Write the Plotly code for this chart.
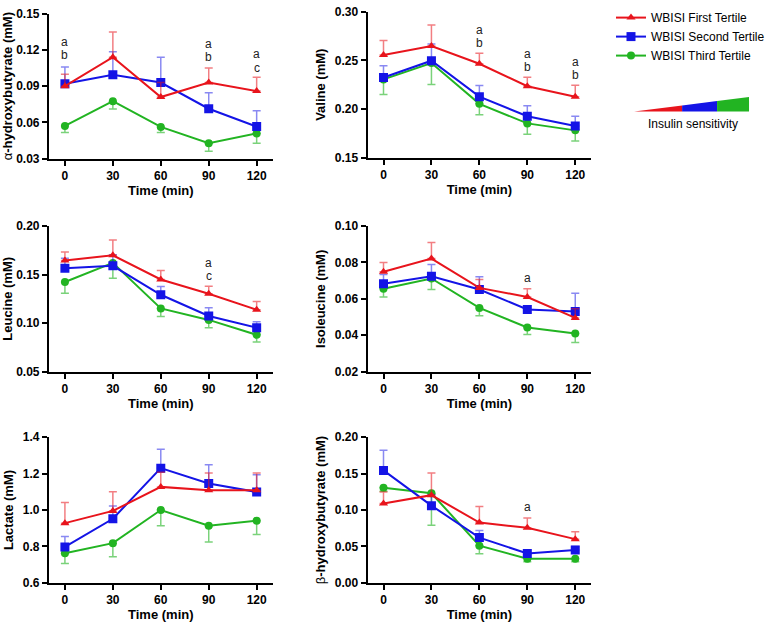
import plotly.graph_objects as go

# ---------------- data ----------------
time_min = [0, 30, 60, 90, 120]
series_names = ["WBISI First Tertile", "WBISI Second Tertile", "WBISI Third Tertile"]

# alpha-hydroxybutyrate (mM)
ahb_first = [0.090, 0.114, 0.081, 0.093, 0.086]
ahb_first_sem = [0.010, 0.021, 0.012, 0.012, 0.0115]
ahb_second = [0.092, 0.0995, 0.093, 0.0713, 0.0565]
ahb_second_sem = [0.014, 0.019, 0.021, 0.0133, 0.0132]
ahb_third = [0.057, 0.0776, 0.0562, 0.0427, 0.0508]
ahb_third_sem = [0.0054, 0.0066, 0.0046, 0.0067, 0.0081]

# Valine (mM)
val_first = [0.2557, 0.2648, 0.2466, 0.2235, 0.2127]
val_first_sem = [0.0148, 0.0218, 0.0108, 0.0093, 0.0118]
val_second = [0.2325, 0.2497, 0.2127, 0.1925, 0.1825]
val_second_sem = [0.0121, 0.0173, 0.0115, 0.0108, 0.010]
val_third = [0.2305, 0.2473, 0.2053, 0.1852, 0.178]
val_third_sem = [0.0155, 0.0221, 0.0113, 0.0112, 0.011]

# Leucine (mM)
leu_first = [0.1644, 0.1698, 0.1449, 0.1302, 0.1138]
leu_first_sem = [0.0087, 0.0158, 0.0094, 0.0078, 0.0084]
leu_second = [0.1564, 0.159, 0.1292, 0.1073, 0.0953]
leu_second_sem = [0.0104, 0.0115, 0.0084, 0.0084, 0.0062]
leu_third = [0.1423, 0.162, 0.1151, 0.1033, 0.0879]
leu_third_sem = [0.0115, 0.0157, 0.0084, 0.008, 0.0074]

# Isoleucine (mM)
ile_first = [0.0749, 0.0821, 0.066, 0.061, 0.0495]
ile_first_sem = [0.0051, 0.0089, 0.0046, 0.0045, 0.005]
ile_second = [0.0683, 0.0724, 0.0651, 0.0542, 0.053]
ile_second_sem = [0.005, 0.0065, 0.007, 0.002, 0.010]
ile_third = [0.0655, 0.0712, 0.055, 0.0443, 0.041]
ile_third_sem = [0.0045, 0.0061, 0.0043, 0.0039, 0.005]

# Lactate (mM)
lac_first = [0.928, 0.995, 1.127, 1.108, 1.108]
lac_first_sem = [0.113, 0.105, 0.08, 0.095, 0.095]
lac_second = [0.797, 0.952, 1.23, 1.146, 1.099]
lac_second_sem = [0.058, 0.07, 0.104, 0.102, 0.095]
lac_third = [0.763, 0.818, 1.0, 0.914, 0.941]
lac_third_sem = [0.057, 0.075, 0.086, 0.09, 0.075]

# beta-hydroxybutyrate (mM)
bhb_first = [0.109, 0.1204, 0.0828, 0.0756, 0.060]
bhb_first_sem = [0.0158, 0.0303, 0.0219, 0.0134, 0.010]
bhb_second = [0.1544, 0.106, 0.0621, 0.0403, 0.045]
bhb_second_sem = [0.0276, 0.015, 0.0099, 0.004, 0.005]
bhb_third = [0.1306, 0.123, 0.051, 0.033, 0.033]
bhb_third_sem = [0.005, 0.044, 0.011, 0.004, 0.004]

# significance letters: (time, letters top-to-bottom)
ahb_letters = [(0, ["a", "b"]), (90, ["a", "b"]), (120, ["a", "c"])]
val_letters = [(60, ["a", "b"]), (90, ["a", "b"]), (120, ["a", "b"])]
leu_letters = [(90, ["a", "c"])]
ile_letters = [(90, ["a"])]
lac_letters = []
bhb_letters = [(90, ["a"])]

x_ticks = [0, 30, 60, 90, 120]
x_title = "Time (min)"
insulin_label = "Insulin sensitivity"

# ---------------- style ----------------
FONT = "Arial, Liberation Sans, sans-serif"
COLORS = ["#E8141C", "#1414E6", "#22B422"]
BAR_COLORS = ["rgba(232,20,28,0.55)", "rgba(20,20,230,0.5)", "rgba(34,180,34,0.6)"]
SYMBOLS = ["triangle-up", "square", "circle"]
SIZES = [8, 9, 8]

W, H = 770, 627


def px_x(p):
    return p / W


def px_y(p):
    return 1 - p / H


panels = [
    dict(title="α<b>-hydroxybutyrate (mM)</b>", data=[(ahb_first, ahb_first_sem), (ahb_second, ahb_second_sem), (ahb_third, ahb_third_sem)],
         yr=[0.03, 0.15], dt=0.03, fmt=".2f", letters=ahb_letters, xd=(49, 273), yd=(7, 155), lstep=0.0108),
    dict(title="<b>Valine (mM)</b>", data=[(val_first, val_first_sem), (val_second, val_second_sem), (val_third, val_third_sem)],
         yr=[0.15, 0.30], dt=0.05, fmt=".2f", letters=val_letters, xd=(368, 592), yd=(5, 154), lstep=0.0134),
    dict(title="<b>Leucine (mM)</b>", data=[(leu_first, leu_first_sem), (leu_second, leu_second_sem), (leu_third, leu_third_sem)],
         yr=[0.05, 0.20], dt=0.05, fmt=".2f", letters=leu_letters, xd=(49, 273), yd=(224, 373), lstep=0.0125),
    dict(title="<b>Isoleucine (mM)</b>", data=[(ile_first, ile_first_sem), (ile_second, ile_second_sem), (ile_third, ile_third_sem)],
         yr=[0.02, 0.10], dt=0.02, fmt=".2f", letters=ile_letters, xd=(368, 592), yd=(224, 373), lstep=0.007),
    dict(title="<b>Lactate (mM)</b>", data=[(lac_first, lac_first_sem), (lac_second, lac_second_sem), (lac_third, lac_third_sem)],
         yr=[0.6, 1.4], dt=0.2, fmt=".1f", letters=lac_letters, xd=(49, 273), yd=(440, 589), lstep=0.07),
    dict(title="β<b>-hydroxybutyrate (mM)</b>", data=[(bhb_first, bhb_first_sem), (bhb_second, bhb_second_sem), (bhb_third, bhb_third_sem)],
         yr=[0.0, 0.20], dt=0.05, fmt=".2f", letters=bhb_letters, xd=(368, 592), yd=(440, 589), lstep=0.018),
]

# letter anchor heights (top letter), in data units
letter_tops = [
    {0: 0.1267, 90: 0.1257, 120: 0.1167},
    {60: 0.2822, 90: 0.257, 120: 0.2487},
    {90: 0.162},
    {90: 0.0717},
    {},
    {90: 0.105},
]

fig = go.Figure()
annotations = []
layout_axes = {}

for i, p in enumerate(panels):
    n = i + 1
    xa = "x" if n == 1 else f"x{n}"
    ya = "y" if n == 1 else f"y{n}"
    # draw third, second, first (first on top)
    for k in [2, 1, 0]:
        vals, sem = p["data"][k]
        if k < 2:
            err = dict(type="data", symmetric=False, array=sem, arrayminus=[0] * len(sem),
                       color=BAR_COLORS[k], thickness=1.5, width=4)
        else:
            err = dict(type="data", symmetric=False, array=[0] * len(sem), arrayminus=sem,
                       color=BAR_COLORS[k], thickness=1.5, width=4)
        fig.add_trace(go.Scatter(
            x=time_min, y=vals, mode="lines+markers", name=series_names[k],
            line=dict(color=COLORS[k], width=2),
            marker=dict(symbol=SYMBOLS[k], size=SIZES[k], color=COLORS[k]),
            error_y=err, xaxis=xa, yaxis=ya,
            showlegend=(i == 0), legendrank=k + 1,
        ))
    x0, x1 = p["xd"]
    y0, y1 = p["yd"]
    axis_font = dict(family=FONT, size=12, color="black", weight="bold")
    layout_axes["xaxis" if n == 1 else f"xaxis{n}"] = dict(
        domain=[px_x(x0), px_x(x1)], range=[-10, 130], tickvals=x_ticks,
        anchor=ya, showline=True, linecolor="black", linewidth=2,
        ticks="outside", ticklen=5, tickwidth=2, tickcolor="black",
        showgrid=False, zeroline=False, tickfont=axis_font,
        title=dict(text=f"<b>{x_title}</b>", font=dict(family=FONT, size=13, color="black"), standoff=4),
    )
    layout_axes["yaxis" if n == 1 else f"yaxis{n}"] = dict(
        domain=[px_y(y1), px_y(y0)], range=p["yr"], dtick=p["dt"], tick0=p["yr"][0],
        tickformat=p["fmt"], anchor=xa, showline=True, linecolor="black", linewidth=2,
        ticks="outside", ticklen=5, tickwidth=2, tickcolor="black",
        showgrid=False, zeroline=False, tickfont=axis_font,
        title=dict(text=p["title"], font=dict(family=FONT, size=13, color="black"), standoff=6),
    )
    for t, letters in p["letters"]:
        top = letter_tops[i][t]
        for j, letter in enumerate(letters):
            annotations.append(dict(
                x=t, y=top - j * p["lstep"], xref=xa, yref=ya, text=letter, showarrow=False,
                font=dict(family=FONT, size=12, color="#222222"), xanchor="center", yanchor="middle",
                height=11, borderpad=0,
            ))

# insulin sensitivity wedge
wx0, wx1, wyb, wyt = 635, 750, 107, 92
cuts = [635, 683, 718, 750]


def top_at(x):
    return wyb - (wyb - wyt) * (x - wx0) / (wx1 - wx0)


shapes = []
for c, (a, b) in zip(["#E8141C", "#1414E6", "#22B422"], zip(cuts[:-1], cuts[1:])):
    pts = [(a, wyb), (b, wyb), (b, top_at(b)), (a, top_at(a))]
    path = "M " + " L ".join(f"{px_x(x):.5f},{px_y(y):.5f}" for x, y in pts) + " Z"
    shapes.append(dict(type="path", xref="paper", yref="paper", path=path,
                       fillcolor=c, line=dict(width=0)))

annotations.append(dict(x=px_x(694), y=px_y(120), xref="paper", yref="paper", text=insulin_label,
                        showarrow=False, font=dict(family=FONT, size=12, color="black"),
                        xanchor="center", yanchor="middle"))

fig.update_layout(
    width=W, height=H, margin=dict(l=0, r=0, t=0, b=0),
    paper_bgcolor="white", plot_bgcolor="white",
    showlegend=True,
    legend=dict(x=px_x(612), y=px_y(-4), xanchor="left", yanchor="top",
                font=dict(family=FONT, size=12, color="black"), itemwidth=30,
                bgcolor="rgba(0,0,0,0)", tracegroupgap=0),
    annotations=annotations, shapes=shapes,
    **layout_axes,
)

fig.write_html(
    "out.html",
    config={"displayModeBar": False},
    post_script="document.body.style.margin='0';document.body.style.overflow='hidden';",
)
